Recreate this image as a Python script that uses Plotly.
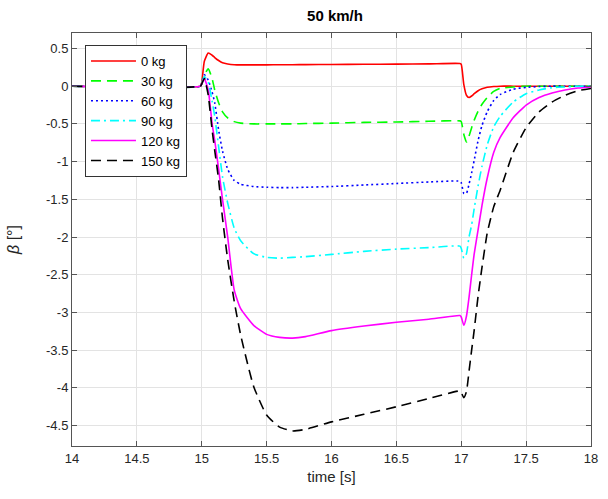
import plotly.graph_objects as go

time = [14.0, 14.99, 15.0, 15.02, 15.05, 15.08, 15.1, 15.13, 15.16, 15.2, 15.25, 15.3,
        15.4, 15.5, 15.6, 15.7, 15.8, 16.0, 16.25, 16.5, 16.75, 16.99, 17.0, 17.02,
        17.04, 17.06, 17.08, 17.1, 17.13, 17.16, 17.2, 17.25, 17.3, 17.4, 17.5, 17.6,
        17.7, 17.8, 17.9, 18.0]

beta_0 = [0, 0, 0.05, 0.33, 0.44, 0.41, 0.38, 0.34, 0.31, 0.295, 0.285, 0.282,
          0.282, 0.283, 0.284, 0.285, 0.286, 0.287, 0.29, 0.293, 0.296, 0.30, 0.29, 0.02,
          -0.12, -0.15, -0.13, -0.10, -0.06, -0.035, -0.015, -0.005, 0, 0, 0, 0,
          0, 0, 0, 0]
beta_30 = [0, 0, 0.03, 0.15, 0.23, 0.10, -0.05, -0.22, -0.34, -0.42, -0.47, -0.49,
           -0.50, -0.50, -0.50, -0.50, -0.495, -0.49, -0.48, -0.475, -0.465, -0.46, -0.47, -0.64,
           -0.74, -0.66, -0.55, -0.45, -0.33, -0.24, -0.15, -0.07, -0.03, -0.01, 0, 0,
           0, 0, 0, 0]
beta_60 = [0, 0, 0.04, 0.15, 0.08, -0.08, -0.22, -0.58, -0.86, -1.10, -1.25, -1.30,
           -1.33, -1.34, -1.345, -1.345, -1.34, -1.33, -1.31, -1.29, -1.27, -1.26, -1.28, -1.42,
           -1.42, -1.30, -1.15, -0.98, -0.72, -0.52, -0.34, -0.19, -0.11, -0.04, -0.015, -0.005,
           0, 0, 0, 0]
beta_90 = [0, 0, 0.04, 0.13, 0.05, -0.20, -0.40, -0.80, -1.20, -1.55, -1.88, -2.05,
           -2.22, -2.27, -2.28, -2.27, -2.26, -2.23, -2.19, -2.16, -2.14, -2.12, -2.15, -2.28,
           -2.22, -2.00, -1.84, -1.62, -1.32, -1.06, -0.78, -0.54, -0.40, -0.21, -0.10, -0.05,
           -0.02, -0.01, 0, 0]
beta_120 = [0, 0, 0.03, 0.10, -0.05, -0.50, -0.72, -1.10, -1.50, -2.00, -2.70, -2.95,
            -3.17, -3.29, -3.33, -3.34, -3.32, -3.24, -3.18, -3.13, -3.09, -3.04, -3.06, -3.17,
            -3.05, -2.80, -2.50, -2.22, -1.90, -1.58, -1.22, -0.88, -0.68, -0.42, -0.25, -0.15,
            -0.09, -0.05, -0.025, -0.01]
beta_150 = [0, 0, 0.03, 0.10, -0.12, -0.58, -0.85, -1.24, -1.75, -2.30, -2.85, -3.30,
            -3.98, -4.36, -4.52, -4.57, -4.55, -4.45, -4.35, -4.25, -4.14, -4.04, -4.06, -4.13,
            -4.05, -3.78, -3.50, -3.23, -2.78, -2.40, -1.95, -1.60, -1.38, -0.88, -0.55, -0.34,
            -0.21, -0.12, -0.06, -0.03]

series = [
    ("0 kg", beta_0, "#FF0000", "solid"),
    ("30 kg", beta_30, "#00FF00", "10px,6px"),
    ("60 kg", beta_60, "#0000FF", "2px,3px"),
    ("90 kg", beta_90, "#00FFFF", "9px,4px,2px,4px"),
    ("120 kg", beta_120, "#FF00FF", "solid"),
    ("150 kg", beta_150, "#000000", "10px,6px"),
]

yticks = [0.5, 0, -0.5, -1, -1.5, -2, -2.5, -3, -3.5, -4, -4.5]
yticktext = ["0.5", "0", "-0.5", "-1", "-1.5", "-2", "-2.5", "-3", "-3.5", "-4", "-4.5"]
xticks = [14, 14.5, 15, 15.5, 16, 16.5, 17, 17.5, 18]
xticktext = ["14", "14.5", "15", "15.5", "16", "16.5", "17", "17.5", "18"]

FONT = "Liberation Sans, Arial"

fig = go.Figure()
for name, vals, color, dash in series:
    fig.add_trace(go.Scatter(x=time, y=vals, mode="lines", name=name,
                             line=dict(color=color, width=1.6, dash=dash,
                                       shape="spline", smoothing=0.5)))

axis_common = dict(showline=True, linecolor="#555555", linewidth=1, mirror="ticks",
                   ticks="inside", ticklen=5, tickcolor="#555555",
                   showgrid=True, gridcolor="#E3E3E3", gridwidth=1, zeroline=False,
                   tickfont=dict(family=FONT, size=13, color="#262626"))

fig.update_layout(
    width=608, height=499,
    margin=dict(l=72, r=10, t=33, b=52.5),
    paper_bgcolor="white", plot_bgcolor="white",
    title=dict(text="<b>50 km/h</b>", x=(72 + 598) / 2 / 608, xanchor="center",
               y=1 - 16 / 499, yanchor="middle", yref="container",
               font=dict(family=FONT, size=15, color="black")),
    xaxis=dict(range=[14, 18], tickvals=xticks, ticktext=xticktext,
               title=dict(text="time [s]", standoff=6,
                          font=dict(family=FONT, size=15, color="#262626")),
               **axis_common),
    yaxis=dict(range=[-4.77, 0.705], tickvals=yticks, ticktext=yticktext,
               title=dict(text="<i>β</i> [°]", standoff=22,
                          font=dict(family=FONT, size=16, color="#262626")),
               **axis_common),
    legend=dict(x=0.025, y=0.971, xanchor="left", yanchor="top",
                bgcolor="white", bordercolor="#333333", borderwidth=1,
                font=dict(family=FONT, size=13, color="black"),
                itemwidth=45, tracegroupgap=0),
    showlegend=True,
)

fig.write_html("out.html", config={"displayModeBar": False},
               post_script="document.body.style.margin='0';document.body.style.padding='0';")
